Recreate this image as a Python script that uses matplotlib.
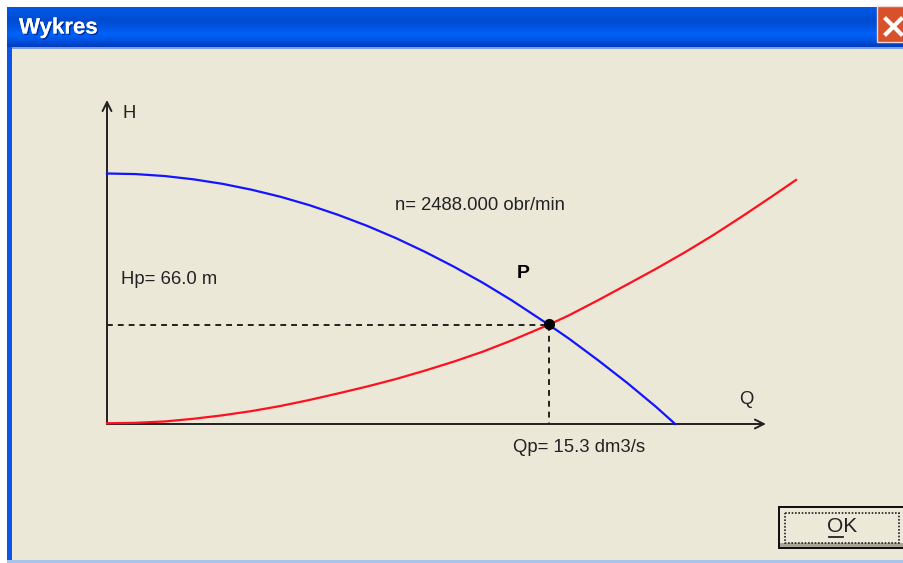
import matplotlib
matplotlib.use("Agg")
import matplotlib.patheffects as pe
import matplotlib.pyplot as plt
import numpy as np
from matplotlib.patches import Rectangle

plt.rcParams["font.family"] = ["Liberation Sans", "DejaVu Sans"]

# pump curve and system curve (Q in dm3/s, H in m)
Q_PUMP = [0, 1, 2, 3, 4, 5, 6, 7, 8, 9, 10, 11, 12, 13, 14, 15.3, 16, 17, 18, 19, 19.66]
H_PUMP = [167, 166.6, 165.3, 163.1, 160.1, 156.2, 151.5, 145.9, 139.4, 132.1, 123.9,
          114.8, 104.9, 94.2, 82.5, 66, 56.7, 42.4, 27.4, 11.4, 0]
Q_SYSTEM = [0, 1, 2, 3, 4, 5, 6, 7, 8, 9, 10, 11, 12, 13, 14, 15.3, 16, 17, 18, 19, 20, 21, 22, 23, 23.84]
H_SYSTEM = [0.5, 0.8, 1.7, 3.5, 5.8, 8.6, 12, 16, 20.4, 25, 30, 35.6, 41.6, 48.2, 55.7,
            66.3, 72.6, 82.6, 93, 103.5, 114.5, 126.2, 138.7, 151.6, 162.7]
QP = 15.3
HP = 66.0
SPEED = 2488.000

W, H = 904, 563
BG = "#ebe8d8"

fig = plt.figure(figsize=(W / 100, H / 100), dpi=100, facecolor="white")

# window frame, in screen pixels
win = fig.add_axes([0, 0, 1, 1])
win.set_xlim(0, W)
win.set_ylim(H, 0)
win.axis("off")

win.add_patch(Rectangle((7, 47), W - 7, 513, fc=BG, ec="none"))
win.add_patch(Rectangle((7, 47), 5, 513, fc="#0a55e6", ec="none"))
win.add_patch(Rectangle((7, 560), W - 7, 3, fc="#a9c4ea", ec="none"))
win.add_patch(Rectangle((12, 47), W - 12, 2, fc="#7f9fe0", ec="none"))

bar_colors = np.array([[0, 88, 226], [0, 82, 220], [0, 76, 208], [0, 84, 226],
                       [0, 98, 248], [0, 84, 228], [0, 60, 190]]) / 255
bar_y = np.linspace(0, 1, 40)
bar = np.array([np.interp(bar_y, np.linspace(0, 1, 7), bar_colors[:, i]) for i in range(3)]).T
win.imshow(bar[:, None, :], extent=(7, W, 47, 7), aspect="auto", interpolation="bilinear", zorder=1)
win.set_xlim(0, W)
win.set_ylim(H, 0)

win.add_patch(Rectangle((877, 6), 30, 36, fc="#d9512a", ec="#f1d9d0", lw=1.0, zorder=2))
win.plot([886, 901], [19, 34], color="white", lw=3, zorder=3)
win.plot([901, 886], [19, 34], color="white", lw=3, zorder=3)

win.text(19, 28, "Wykres", color="white", fontsize=16, fontweight="bold", va="center", zorder=3,
         path_effects=[pe.withSimplePatchShadow(offset=(1, -1), shadow_rgbFace="#00208a", alpha=0.8), pe.Normal()])

# OK button
win.add_patch(Rectangle((778, 506), 130, 43, fc="#111111", ec="none"))
win.add_patch(Rectangle((780, 508), 130, 39, fc="#ece9d8", ec="none"))
win.add_patch(Rectangle((780, 543), 130, 4, fc="#a8a595", ec="none"))
win.add_patch(Rectangle((785, 513), 114, 30, fc="none", ec="#222222", lw=1.2, ls=(0, (1, 1))))
win.text(842, 526, "OK", fontsize=15, ha="center", va="center", color="#222222")
win.plot([829, 843], [537, 537], color="#222222", lw=1.3)

# chart, data axes laid over the window so 1 dm3/s = 28.9 px and 1 m = 1.5 px
px_q = 28.9
px_h = 1.5
ax = fig.add_axes([0, 0, 1, 1])
ax.patch.set_alpha(0)
ax.axis("off")
ax.set_xlim(-107 / px_q, (W - 107) / px_q)
ax.set_ylim((424 - H) / px_h, 424 / px_h)

ax.plot(Q_PUMP, H_PUMP, color="#1414ff", lw=1.6, zorder=3)
ax.plot(Q_SYSTEM, H_SYSTEM, color="#ff1020", lw=1.6, zorder=3)
ax.plot([0, QP], [HP, HP], color="black", lw=1.2, ls=(0, (3.5, 3)), zorder=2)
ax.plot([QP, QP], [HP, 0], color="black", lw=1.2, ls=(0, (3.5, 3)), zorder=2)
ax.plot([QP], [HP + 0.6], "o", color="black", ms=7, zorder=4)

arrow = dict(arrowstyle="->", color="#222222", lw=1.4, mutation_scale=16, shrinkA=0, shrinkB=0)
ax.annotate("", xy=(0, 216), xytext=(0, 0), arrowprops=arrow, zorder=2)
ax.annotate("", xy=(22.8, 0), xytext=(0, 0), arrowprops=arrow, zorder=2)

label = dict(fontsize=13.3, color="#222222", va="center")
win.text(123, 113, "H", **label)
win.text(739, 400, "Q", **label)
win.text(395, 206, f"n= {SPEED:.3f} obr/min", **label)
win.text(121, 279, f"Hp= {HP:.1f} m", **label)
win.text(513, 447, f"Qp= {QP:.1f} dm3/s", **label)
win.text(517, 274, "P", fontsize=14, fontweight="bold", color="black", va="center")

fig.savefig("out.png", dpi=100, facecolor="white")
